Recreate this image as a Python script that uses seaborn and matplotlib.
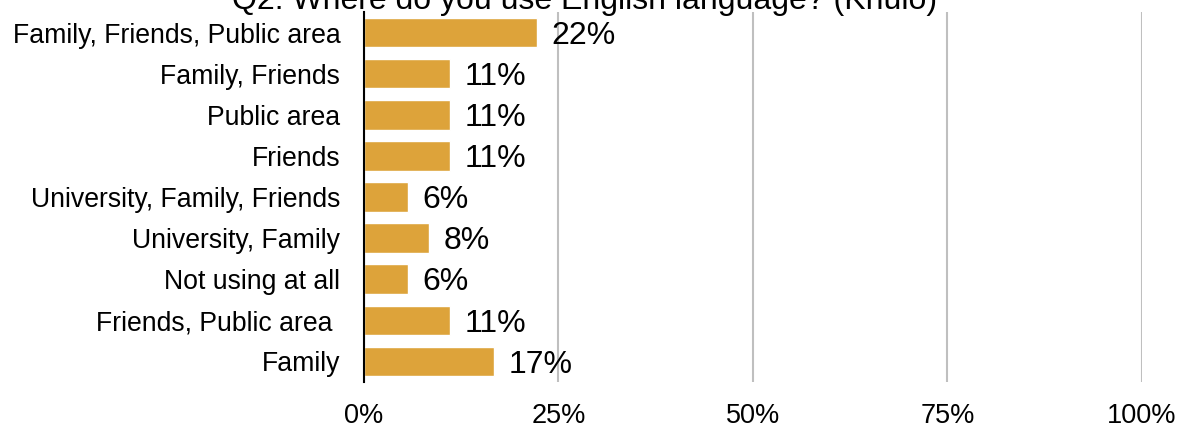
import matplotlib
matplotlib.use("Agg")
import matplotlib.pyplot as plt
import seaborn as sns
import pandas as pd
from matplotlib.ticker import FixedLocator

categories = [
    "Family, Friends, Public area",
    "Family, Friends",
    "Public area",
    "Friends",
    "University, Family, Friends",
    "University, Family",
    "Not using at all",
    "Friends, Public area ",
    "Family",
]
shares = [22.2, 11.1, 11.1, 11.1, 5.6, 8.3, 5.6, 11.1, 16.7]
x_ticks = [0, 25, 50, 75, 100]
x_tick_labels = ["0%", "25%", "50%", "75%", "100%"]
title = "Q2: Where do you use English language? (Khulo)"

df = pd.DataFrame({"category": categories, "share": shares})

sns.set_theme(style="white")
plt.rcParams["font.family"] = ["Liberation Sans", "DejaVu Sans"]

fig = plt.figure(figsize=(11.84, 4.28), dpi=100)
ax = fig.add_axes([0.3074, 0.1075, 0.6571, 0.8645])

sns.barplot(data=df, y="category", x="share", orient="h", color="#DDA33A",
            saturation=1, width=0.72, ax=ax, order=categories)

ax.set_xlim(0, 100)
ax.set_ylim(len(categories) - 0.5, -0.5)
ax.xaxis.set_major_locator(FixedLocator(x_ticks))
ax.set_xticklabels(x_tick_labels)
ax.grid(axis="x", color="#BFBFBF", linewidth=1.5)
ax.set_axisbelow(True)
ax.set_xlabel("")
ax.set_ylabel("")

for side in ["top", "right", "bottom"]:
    ax.spines[side].set_visible(False)
ax.spines["left"].set_color("black")
ax.spines["left"].set_linewidth(1.5)
ax.spines["left"].set_zorder(5)

ax.tick_params(axis="y", length=0, pad=17, labelsize=19.2, labelcolor="black")
ax.tick_params(axis="x", length=0, pad=15, labelsize=19.5, labelcolor="black")

for i, v in enumerate(shares):
    ax.text(v + 1.9, i + 0.08, f"{v:.0f}%", va="center", ha="left",
            fontsize=23, color="black")

fig.text(0.494, 1 - 9 / 428, title, ha="center", va="baseline",
         fontsize=23, color="black")

fig.savefig("out.png", dpi=100)
